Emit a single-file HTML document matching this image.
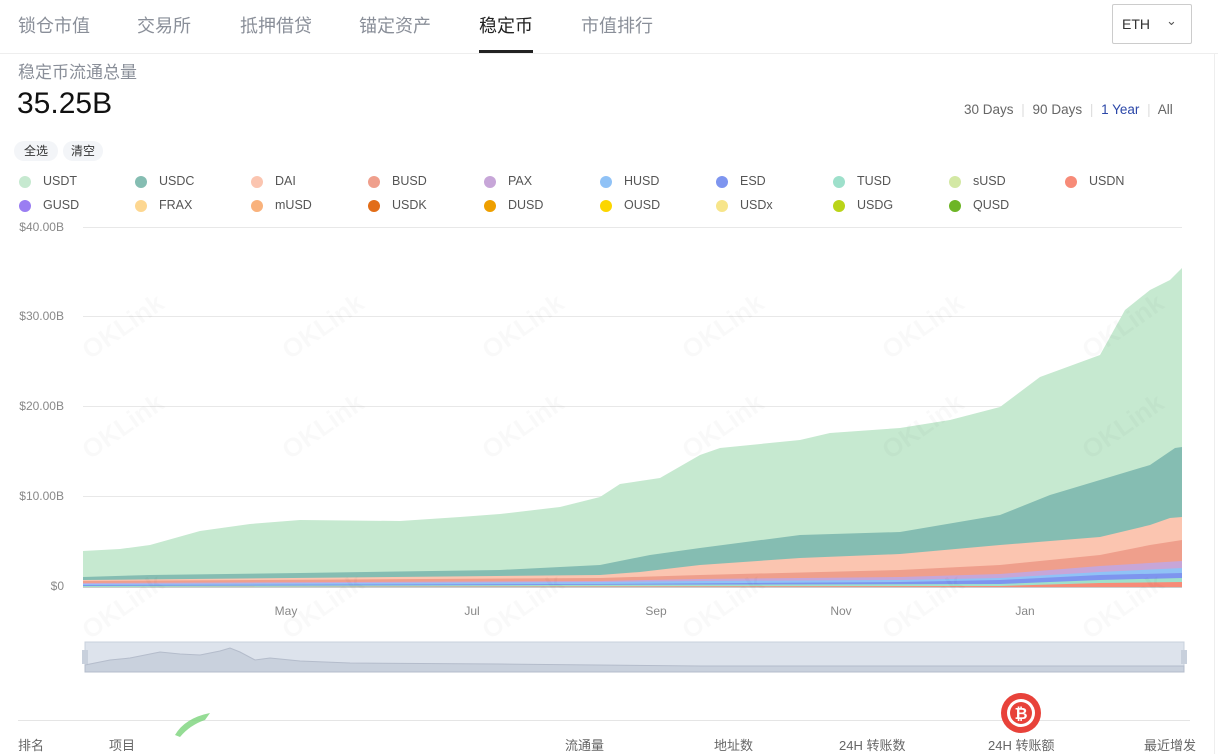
<!DOCTYPE html>
<html><head><meta charset="utf-8"><style>
*{margin:0;padding:0;box-sizing:border-box}
body{width:1218px;height:753px;background:#fff;font-family:"Liberation Sans","Noto Sans CJK SC",sans-serif;position:relative;overflow:hidden;color:#333}
.abs{position:absolute;white-space:nowrap}
.tab{position:absolute;top:12px;font-size:18px;color:#8a8f99}
.leg{position:absolute;font-size:12.5px;color:#555}
.leg i{position:absolute;left:-24px;top:2px;width:12px;height:12px;border-radius:50%}
.hd{position:absolute;top:735px;font-size:13px;color:#666}
</style></head><body>
<div class="tab" style="left:18px">锁仓市值</div>
<div class="tab" style="left:137px">交易所</div>
<div class="tab" style="left:240px">抵押借贷</div>
<div class="tab" style="left:359px">锚定资产</div>
<div class="tab" style="left:479px;color:#222">稳定币</div>
<div class="tab" style="left:581px">市值排行</div>
<div class="abs" style="left:479px;top:50px;width:54px;height:3px;background:#222"></div>
<div class="abs" style="left:0;top:53px;width:1218px;height:1px;background:#eee"></div>
<div class="abs" style="left:1112px;top:4px;width:80px;height:40px;border:1px solid #ccc;border-radius:2px"></div>
<div class="abs" style="left:1122px;top:16px;font-size:14px;color:#333">ETH</div>
<div class="abs" style="left:1166px;top:13px;font-size:13px;color:#555">⌄</div>
<div class="abs" style="left:1214px;top:54px;width:1px;height:700px;background:#eee"></div>
<div class="abs" style="left:18px;top:58px;font-size:17px;color:#8a8f99">稳定币流通总量</div>
<div class="abs" style="left:17px;top:87px;font-size:30px;color:#111">35.25B</div>
<div class="abs" style="left:964px;top:102px;font-size:13.5px;color:#666">30 Days <span style="color:#ddd;margin:0 4px">|</span> 90 Days <span style="color:#ddd;margin:0 4px">|</span> <span style="color:#2b47a8">1 Year</span> <span style="color:#ddd;margin:0 4px">|</span> All</div>
<div class="abs" style="left:14px;top:141px;width:44px;height:20px;border-radius:10px;background:#f3f5f8;font-size:12px;line-height:20px;text-align:center;color:#333">全选</div>
<div class="abs" style="left:63px;top:141px;width:40px;height:20px;border-radius:10px;background:#f3f5f8;font-size:12px;line-height:20px;text-align:center;color:#333">清空</div>
<div class="leg" style="left:43px;top:174px"><i style="background:#c6e9d0"></i>USDT</div>
<div class="leg" style="left:159px;top:174px"><i style="background:#85bdb2"></i>USDC</div>
<div class="leg" style="left:275px;top:174px"><i style="background:#fbc5b0"></i>DAI</div>
<div class="leg" style="left:392px;top:174px"><i style="background:#ef9f8c"></i>BUSD</div>
<div class="leg" style="left:508px;top:174px"><i style="background:#c7a6d8"></i>PAX</div>
<div class="leg" style="left:624px;top:174px"><i style="background:#90c2f6"></i>HUSD</div>
<div class="leg" style="left:740px;top:174px"><i style="background:#7e95ef"></i>ESD</div>
<div class="leg" style="left:857px;top:174px"><i style="background:#9ee0cb"></i>TUSD</div>
<div class="leg" style="left:973px;top:174px"><i style="background:#d3e8a4"></i>sUSD</div>
<div class="leg" style="left:1089px;top:174px"><i style="background:#f78b78"></i>USDN</div>
<div class="leg" style="left:43px;top:198px"><i style="background:#9a7ef2"></i>GUSD</div>
<div class="leg" style="left:159px;top:198px"><i style="background:#fdd791"></i>FRAX</div>
<div class="leg" style="left:275px;top:198px"><i style="background:#f9b27c"></i>mUSD</div>
<div class="leg" style="left:392px;top:198px"><i style="background:#e26d18"></i>USDK</div>
<div class="leg" style="left:508px;top:198px"><i style="background:#ee9f00"></i>DUSD</div>
<div class="leg" style="left:624px;top:198px"><i style="background:#fcd600"></i>OUSD</div>
<div class="leg" style="left:740px;top:198px"><i style="background:#f7e58a"></i>USDx</div>
<div class="leg" style="left:857px;top:198px"><i style="background:#bad418"></i>USDG</div>
<div class="leg" style="left:973px;top:198px"><i style="background:#6db526"></i>QUSD</div>
<svg class="abs" style="left:0;top:0" width="1218" height="753" font-family="Liberation Sans, sans-serif">
<g stroke="#e8e8e8" stroke-width="1">
<line x1="83" y1="227.5" x2="1182" y2="227.5"/><line x1="83" y1="316.5" x2="1182" y2="316.5"/>
<line x1="83" y1="406.5" x2="1182" y2="406.5"/><line x1="83" y1="496.5" x2="1182" y2="496.5"/>
</g>
<g font-size="12" fill="#888" text-anchor="end">
<text x="64" y="231">$40.00B</text><text x="64" y="320">$30.00B</text><text x="64" y="410">$20.00B</text><text x="64" y="500">$10.00B</text><text x="64" y="590">$0</text>
</g>
<path fill="#c6e9d0" d="M83,551 L120,549 150,545 200,531 250,524 300,520 400,521 460,517 500,514 560,507 600,497 620,484 660,478 700,455 720,448 800,440 830,433 900,428 950,420 1000,407 1040,377 1100,355 1125,310 1150,290 1170,280 1182,268 L1182,587 L83,587Z"/>
<path fill="#85bdb2" d="M83,577 L150,575 300,573 500,570 600,565 650,555 700,548 800,535 900,532 1000,515 1050,495 1100,480 1150,465 1175,448 1182,447 L1182,587 L83,587Z"/>
<path fill="#fbc5b0" d="M83,580 L600,575 640,572 700,565 800,558 900,554 1000,545 1100,537 1150,525 1170,518 1182,517 L1182,587 L83,587Z"/>
<path fill="#ef9f8c" d="M83,581 L600,578 700,575 900,570 1000,565 1100,555 1150,545 1182,540 L1182,587 L83,587Z"/>
<path fill="#c7a6d8" d="M83,583 L600,581 700,579 900,577 1000,574 1100,566 1182,561 L1182,587 L83,587Z"/>
<path fill="#90c2f6" d="M83,584 L600,582 700,581 900,580 1000,578 1100,572 1182,568 L1182,587 L83,587Z"/>
<path fill="#7e95ef" d="M83,585 L600,584 900,582 1000,580 1100,575 1182,573 L1182,587 L83,587Z"/>
<path fill="#9ee0cb" d="M83,586 L1000,584 1100,580 1182,578 L1182,587 L83,587Z"/>
<path fill="#f78b78" d="M83,587 L1000,586 1100,583 1182,582 L1182,587 L83,587Z"/>
<line x1="83" y1="587.5" x2="1182" y2="587.5" stroke="#ccc"/>
<g font-size="12" fill="#888" text-anchor="middle">
<text x="286" y="615">May</text><text x="472" y="615">Jul</text><text x="656" y="615">Sep</text><text x="841" y="615">Nov</text><text x="1025" y="615">Jan</text>
</g>
<rect x="85" y="642" width="1099" height="30" fill="#dde3ec" stroke="#c8d0dc"/>
<path d="M85,665 L110,660 130,658 160,652 180,654 200,655 220,651 230,648 240,652 255,660 270,658 300,661 350,663 500,664 700,666 900,666 1184,666 L1184,672 L85,672Z" fill="#c9d1dd" stroke="#b4bccb" stroke-width="1"/>
<rect x="82" y="650" width="6" height="14" fill="#c8d0dc"/><rect x="1181" y="650" width="6" height="14" fill="#c8d0dc"/>
<g font-size="26" font-weight="bold" fill="#000" fill-opacity="0.025">
<text transform="translate(90,360) rotate(-35)">OKLink</text><text transform="translate(290,360) rotate(-35)">OKLink</text><text transform="translate(490,360) rotate(-35)">OKLink</text><text transform="translate(690,360) rotate(-35)">OKLink</text><text transform="translate(890,360) rotate(-35)">OKLink</text><text transform="translate(1090,360) rotate(-35)">OKLink</text>
<text transform="translate(90,460) rotate(-35)">OKLink</text><text transform="translate(290,460) rotate(-35)">OKLink</text><text transform="translate(490,460) rotate(-35)">OKLink</text><text transform="translate(690,460) rotate(-35)">OKLink</text><text transform="translate(890,460) rotate(-35)">OKLink</text><text transform="translate(1090,460) rotate(-35)">OKLink</text>
<text transform="translate(90,640) rotate(-35)">OKLink</text><text transform="translate(290,640) rotate(-35)">OKLink</text><text transform="translate(490,640) rotate(-35)">OKLink</text><text transform="translate(690,640) rotate(-35)">OKLink</text><text transform="translate(890,640) rotate(-35)">OKLink</text><text transform="translate(1090,640) rotate(-35)">OKLink</text>
</g>
<line x1="18" y1="720.5" x2="1190" y2="720.5" stroke="#e5e5e5"/>
<circle cx="1021" cy="713" r="20" fill="#e8423a"/><circle cx="1021" cy="713" r="14" fill="#fff"/><circle cx="1021" cy="713" r="11" fill="#e8423a"/>
<text x="1021" y="719" font-size="16" font-weight="bold" fill="#fff" text-anchor="middle">₿</text>
<path d="M175,735 Q185,718 210,713 L205,720 Q190,725 180,737Z" fill="#7bd37b" opacity="0.8"/>
</svg>
<div class="hd" style="left:18px">排名</div>
<div class="hd" style="left:109px">项目</div>
<div class="hd" style="left:565px">流通量</div>
<div class="hd" style="left:714px">地址数</div>
<div class="hd" style="left:839px">24H 转账数</div>
<div class="hd" style="left:988px">24H 转账额</div>
<div class="hd" style="left:1144px">最近增发</div>
</body></html>
